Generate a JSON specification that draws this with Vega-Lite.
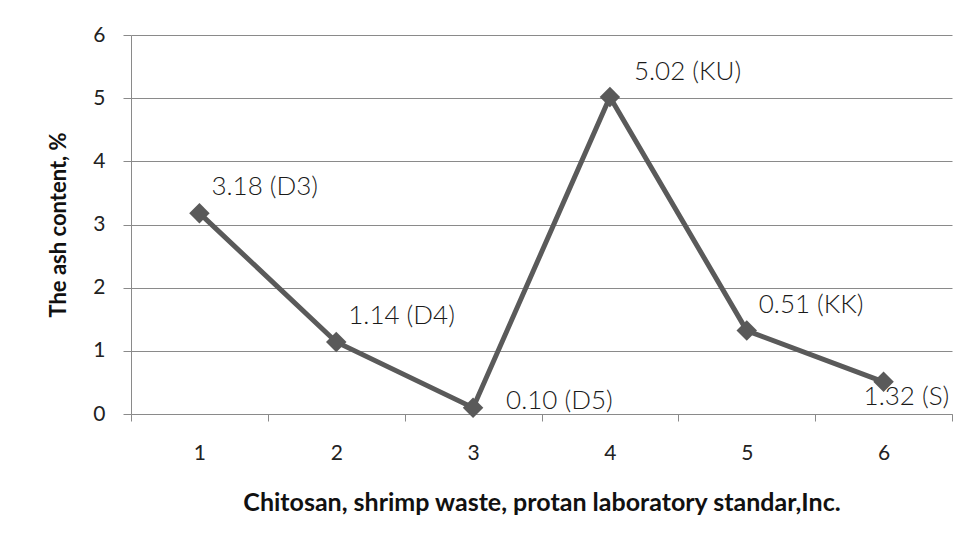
{
  "$schema": "https://vega.github.io/schema/vega-lite/v6.json",
  "width": 821,
  "height": 379,
  "autosize": "none",
  "padding": {"left": 131, "top": 35, "right": 24, "bottom": 129},
  "background": "white",
  "config": {"view": {"stroke": null}, "font": "Lato"},
  "data": {
    "values": [
      {"sample": "1", "ash": 3.18, "label": "3.18 (D3)"},
      {"sample": "2", "ash": 1.14, "label": "1.14 (D4)"},
      {"sample": "3", "ash": 0.10, "label": "0.10 (D5)"},
      {"sample": "4", "ash": 5.02, "label": "5.02 (KU)"},
      {"sample": "5", "ash": 1.32, "label": "0.51 (KK)"},
      {"sample": "6", "ash": 0.51, "label": "1.32 (S)"}
    ]
  },
  "encoding": {
    "x": {
      "field": "sample",
      "type": "ordinal",
      "scale": {"type": "band", "paddingInner": 0, "paddingOuter": 0},
      "bandPosition": 0.5,
      "axis": {
        "title": "Chitosan, shrimp waste, protan laboratory standar,Inc.",
        "labelAngle": 0,
        "tickBand": "extent",
        "tickSize": 7,
        "grid": false,
        "domainColor": "#8a8a8a",
        "tickColor": "#8a8a8a",
        "labelFontSize": 21,
        "labelPadding": 21,
        "labelColor": "#222222",
        "titleFontSize": 25,
        "titleFontWeight": "bold",
        "titlePadding": 27,
        "titleColor": "#111111"
      }
    },
    "y": {
      "field": "ash",
      "type": "quantitative",
      "scale": {"domain": [0, 6], "nice": false},
      "axis": {
        "title": "The ash content, %",
        "values": [0, 1, 2, 3, 4, 5, 6],
        "tickSize": 8,
        "grid": true,
        "gridColor": "#8a8a8a",
        "domainColor": "#8a8a8a",
        "tickColor": "#8a8a8a",
        "labelFontSize": 21,
        "labelPadding": 18,
        "labelColor": "#222222",
        "titleFontSize": 22,
        "titleFontWeight": "bold",
        "titlePadding": 22,
        "titleColor": "#111111"
      }
    }
  },
  "layer": [
    {"mark": {"type": "line", "color": "#5a5a5a", "strokeWidth": 5}},
    {"mark": {"type": "point", "shape": "diamond", "filled": true, "size": 420, "color": "#5a5a5a", "opacity": 1}},
    {
      "transform": [{"filter": "indexof(['1','2','5'], datum.sample) >= 0"}],
      "mark": {"type": "text", "align": "left", "baseline": "middle", "dx": 12, "dy": -26, "fontSize": 26, "fontWeight": 300, "color": "#1a1a1a"},
      "encoding": {"text": {"field": "label"}}
    },
    {
      "transform": [{"filter": "datum.sample == '4'"}],
      "mark": {"type": "text", "align": "left", "baseline": "middle", "dx": 24, "dy": -25, "fontSize": 26, "fontWeight": 300, "color": "#1a1a1a"},
      "encoding": {"text": {"field": "label"}}
    },
    {
      "transform": [{"filter": "datum.sample == '3'"}],
      "mark": {"type": "text", "align": "left", "baseline": "middle", "dx": 33, "dy": -7, "fontSize": 26, "fontWeight": 300, "color": "#1a1a1a"},
      "encoding": {"text": {"field": "label"}}
    },
    {
      "transform": [{"filter": "datum.sample == '6'"}],
      "mark": {"type": "text", "align": "left", "baseline": "middle", "dx": -20, "dy": 15, "fontSize": 26, "fontWeight": 300, "color": "#1a1a1a"},
      "encoding": {"text": {"field": "label"}}
    }
  ]
}
